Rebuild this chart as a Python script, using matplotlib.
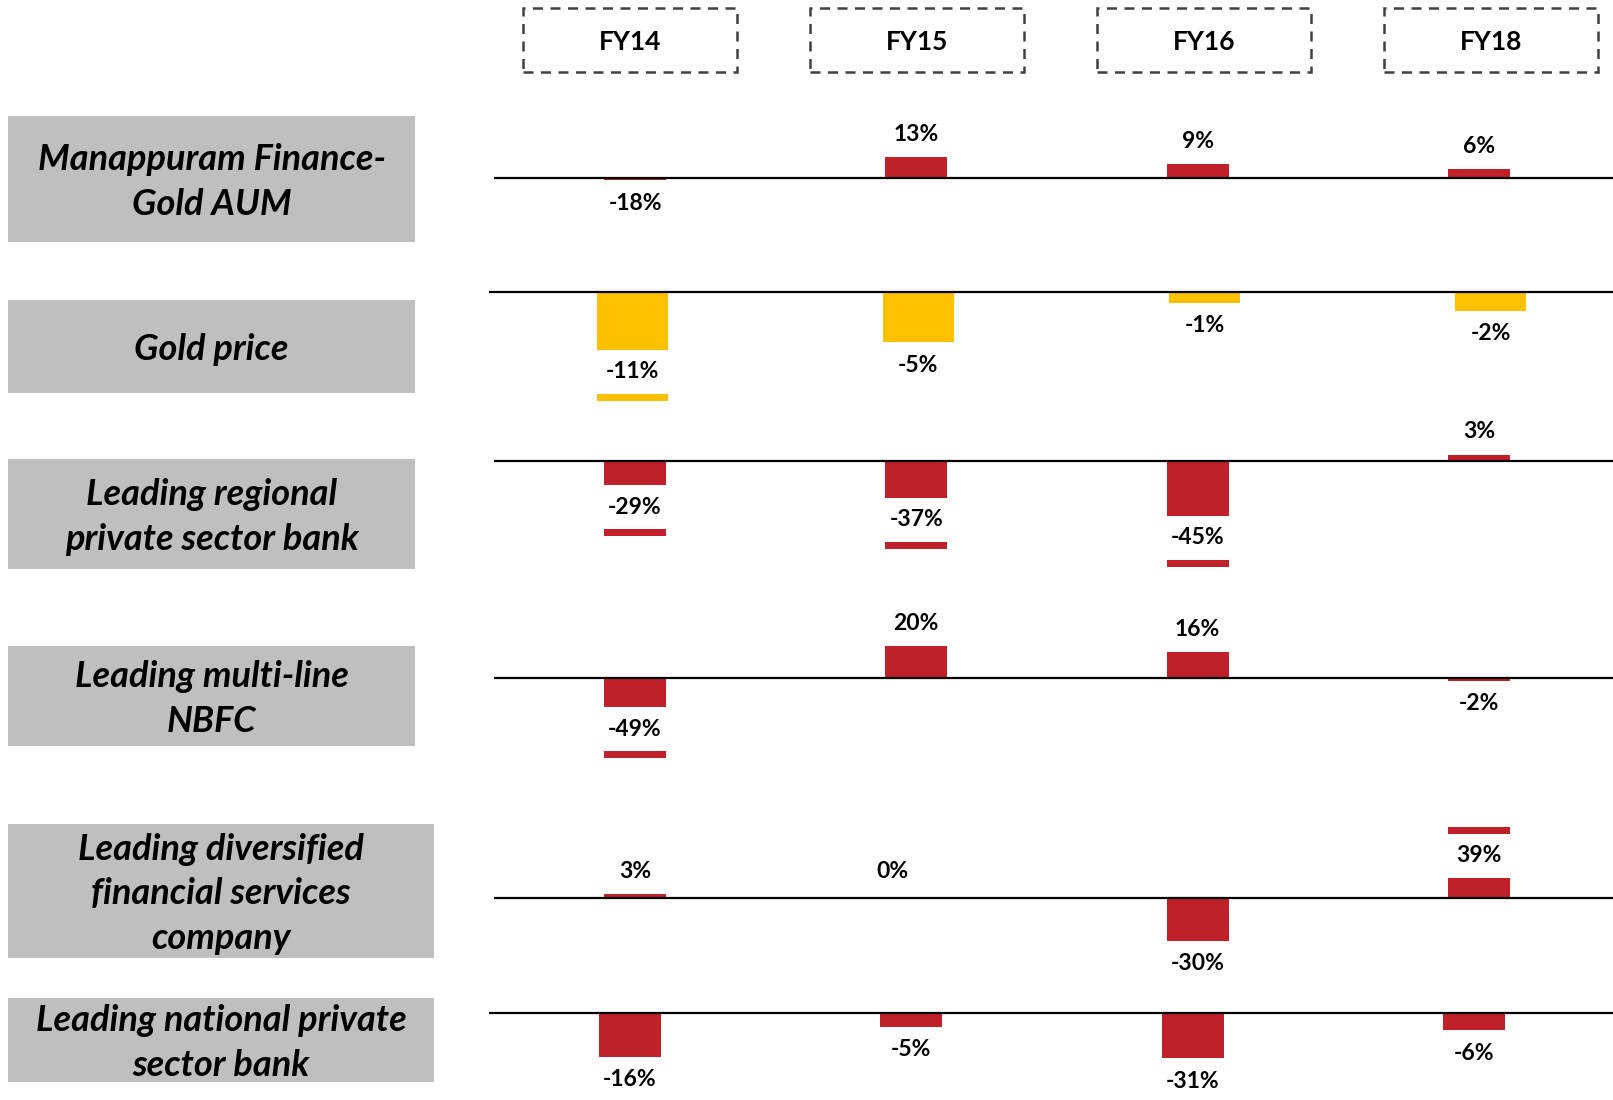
import matplotlib
matplotlib.use("Agg")
import matplotlib.pyplot as plt
from matplotlib.patches import Rectangle

plt.rcParams['font.family'] = ['Lato', 'DejaVu Sans']

# ---- data ----
years = ['FY14', 'FY15', 'FY16', 'FY18']

row_names = [
    'Manappuram Finance-\nGold AUM',
    'Gold price',
    'Leading regional\nprivate sector bank',
    'Leading multi-line\nNBFC',
    'Leading diversified\nfinancial services\ncompany',
    'Leading national private\nsector bank',
]

# growth figures printed on the chart (%)
aum_growth = [-18, 13, 9, 6]
gold_growth = [-11, -5, -1, -2]
regional_growth = [-29, -37, -45, 3]
nbfc_growth = [-49, 20, 16, -2]
diversified_growth = [3, 0, -30, 39]
national_growth = [-16, -5, -31, -6]

# bar lengths as drawn (the chart is not to scale, one unit = one pixel)
aum_len = [-2, 21, 14, 9]
gold_len = [-58, -50, -11, -19]
regional_len = [-24, -37, -55, 6]
nbfc_len = [-29, 32, 26, -3]
diversified_len = [4, 0, -43, 20]
national_len = [-44, -14, -45, -17]

# bars drawn with a break around the label
aum_broken = [False, False, False, False]
gold_broken = [True, False, False, False]
regional_broken = [True, True, True, False]
nbfc_broken = [True, False, False, False]
diversified_broken = [False, False, False, True]
national_broken = [False, False, False, False]

growth = [aum_growth, gold_growth, regional_growth, nbfc_growth,
          diversified_growth, national_growth]
lengths = [aum_len, gold_len, regional_len, nbfc_len, diversified_len, national_len]
broken = [aum_broken, gold_broken, regional_broken, nbfc_broken,
          diversified_broken, national_broken]

RED = '#C0202A'
GOLD = '#FFC000'
colors = [RED, GOLD, RED, RED, RED, RED]

# ---- layout (pixels in the 1613x1100 canvas) ----
W, H = 1613, 1100
# baseline y, line start x, first bar centre, spacing, bar width, label box
layout = [
    (178, 494, 635, 281.3, 62, (8, 116, 415, 242)),
    (292, 489, 632, 286.3, 71, (8, 300, 415, 393)),
    (461, 494, 635, 281.3, 62, (8, 459, 415, 569)),
    (678, 494, 635, 281.3, 62, (8, 646, 415, 746)),
    (898, 494, 635, 281.3, 62, (8, 824, 434, 958)),
    (1013, 489, 630, 281.3, 62, (8, 998, 434, 1082)),
]

fig = plt.figure(figsize=(W / 100, H / 100), dpi=100)


def fx(x):
    return x / W


def fy(y):
    return 1 - y / H


# header boxes
hdr_first, hdr_step, hdr_w, hdr_top, hdr_bot = 630, 287, 214, 8, 72
for i, yr in enumerate(years):
    cx = hdr_first + i * hdr_step
    fig.patches.append(Rectangle((fx(cx - hdr_w / 2), fy(hdr_bot)), hdr_w / W,
                                 (hdr_bot - hdr_top) / H, transform=fig.transFigure,
                                 fill=False, edgecolor='#404040', lw=1.8,
                                 linestyle=(0, (4, 3))))
    fig.text(fx(cx), fy((hdr_top + hdr_bot) / 2 + 2), yr, ha='center', va='center',
             fontsize=19, fontweight='bold', color='black')

GAP = 44      # break gap in pixels
SEG = 7       # height of segment after the break
AX_H = 240

for r in range(len(row_names)):
    base, x0, first, step, bw, box = layout[r]
    ax = fig.add_axes([fx(x0), fy(base + AX_H / 2), (W - x0) / W, AX_H / H])
    ax.set_xlim((x0 - first) / step, (W - first) / step)
    ax.set_ylim(-AX_H / 2, AX_H / 2)
    ax.axis('off')
    ax.patch.set_alpha(0)

    xs = list(range(len(years)))
    ax.bar(xs, lengths[r], width=bw / step, color=colors[r], zorder=2)
    ax.axhline(0, color='black', lw=1.6, zorder=3)

    for i in xs:
        L = lengths[r][i]
        g = growth[r][i]
        sign = 1 if (L > 0 or (L == 0 and g >= 0)) else -1
        if broken[r][i]:
            seg_start = L + sign * GAP
            ax.bar(i, sign * SEG, bottom=seg_start, width=bw / step,
                   color=colors[r], zorder=2)
            ty = L + sign * GAP / 2
        else:
            ty = L + sign * 23
        tx = i
        if g == 0:
            tx = i - 24 / step
            ty = 26
        ax.text(tx, ty, f'{g}%', ha='center', va='center', fontsize=16.5,
                fontweight='bold', color='black', zorder=4)

    # row label box
    bx0, by0, bx1, by1 = box
    fig.patches.append(Rectangle((fx(bx0), fy(by1)), (bx1 - bx0) / W, (by1 - by0) / H,
                                 transform=fig.transFigure, facecolor='#BFBFBF',
                                 edgecolor='none'))
    fig.text(fx((bx0 + bx1) / 2), fy((by0 + by1) / 2 + 3), row_names[r], ha='center',
             va='center', fontsize=26, fontweight='bold', fontstyle='italic',
             linespacing=1.42, color='black')

fig.savefig('out.png', dpi=100)
